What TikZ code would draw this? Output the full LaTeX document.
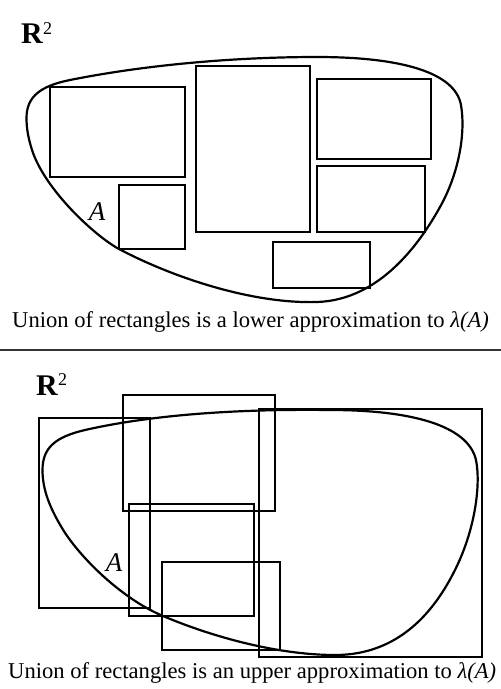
\documentclass[tikz,border=0pt]{standalone}
\usepackage{fontspec}
\setmainfont{Liberation Serif}
\begin{document}
\begin{tikzpicture}[x=1pt,y=-1pt,
  box/.style={draw, line width=1.3pt},
  blob/.style={draw, line width=2.2pt},
  captxt/.style={font=\fontsize{22.6}{22.6}\selectfont, anchor=base west, inner sep=0pt},
  lbl/.style={font=\fontsize{27}{27}\selectfont\itshape, inner sep=0pt},
  rlabel/.style={anchor=base west, inner sep=0pt}]
\useasboundingbox (0,0) rectangle (501,689);
% ---------- top panel ----------
\node[rlabel] (r1) at (21,43) {\fontsize{30}{30}\selectfont\textbf{R}\raisebox{9pt}{\fontsize{18}{18}\selectfont 2}};
\draw[blob] (26.5,118)
  .. controls (26.5,97) and (40,86) .. (70,80)
  .. controls (150,64) and (240,57) .. (317,57)
  .. controls (400,57) and (455,72) .. (461,105)
  .. controls (466,135) and (458,175) .. (440,207)
  .. controls (420,243) and (380,300) .. (317,302)
  .. controls (250,304) and (170,276) .. (119,249)
  .. controls (95,236) and (45,190) .. (32,150)
  .. controls (28,137) and (26.5,128) .. cycle;
\draw[box] (50,87) rectangle (185,177);
\draw[box] (196,66) rectangle (310,232);
\draw[box] (317,79) rectangle (431,159);
\draw[box] (317,166) rectangle (425,232);
\draw[box] (119,185) rectangle (185,249);
\draw[box] (273,242) rectangle (370,288);
\node[lbl] (a1) at (97,212) {A};
\node[captxt] (cap1) at (12,327) {Union of rectangles is a lower approximation to \textit{λ(A)}};
% ---------- separator ----------
\draw[line width=2pt, black!80] (0,349.5) -- (501,349.5);
% ---------- bottom panel ----------
\node[rlabel] (r2) at (36,395) {\fontsize{30}{30}\selectfont\textbf{R}\raisebox{10pt}{\fontsize{18}{18}\selectfont 2}};
\draw[blob] (42.5,470)
  .. controls (42.5,448) and (55,437) .. (85,430)
  .. controls (160,413) and (250,409) .. (330,410)
  .. controls (410,410) and (468,425) .. (476,460)
  .. controls (481,485) and (475,530) .. (455,570)
  .. controls (435,610) and (400,655) .. (335,655)
  .. controls (280,655) and (215,638) .. (163,616)
  .. controls (120,598) and (78,555) .. (62,528)
  .. controls (50,508) and (42.5,490) .. cycle;
\draw[box] (39,418) rectangle (150,608);
\draw[box] (123,395) rectangle (275,511);
\draw[box] (259,409) rectangle (482,657);
\draw[box] (129,504) rectangle (254,616);
\draw[box] (162,562) rectangle (280,650);
\node[lbl] (a2) at (114,563) {A};
\node[captxt] (cap2) at (8,678) {Union of rectangles is an upper approximation to \textit{λ(A)}};
\end{tikzpicture}
\end{document}
